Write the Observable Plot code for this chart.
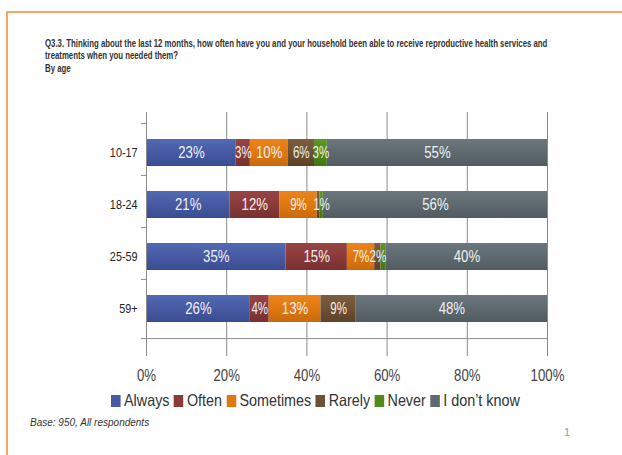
<!DOCTYPE html>
<html>
<head>
<meta charset="utf-8">
<script src="https://cdn.jsdelivr.net/npm/d3@7"></script>
<script src="https://cdn.jsdelivr.net/npm/@observablehq/plot@0.6"></script>
<style>
  html, body { margin: 0; padding: 0; background: #fff; }
  #page { position: relative; width: 622px; height: 455px; overflow: hidden; font-family: "Liberation Sans", Arial, sans-serif; }
  #frame { position: absolute; left: 6px; top: 11px; width: 700px; height: 500px; border-left: 2px solid #F7A666; border-top: 2px solid #F7A666; }
  #title { position: absolute; left: 45px; top: 38px; font-size: 10px; font-weight: bold; line-height: 12.3px; color: #333; white-space: nowrap; transform: scaleX(0.78); transform-origin: 0 0; }
  #chart { position: absolute; left: 0; top: 0; }
  #legend { position: absolute; left: 111px; top: 391px; display: flex; align-items: center; font-size: 16.5px; color: #333; white-space: nowrap; transform: scaleX(0.87); transform-origin: 0 0; }
  #legend .item { display: flex; align-items: center; margin-right: 5px; }
  #legend .sw { width: 11px; height: 12px; margin-right: 4px; }
  #caption { position: absolute; left: 30px; top: 417px; font-style: italic; font-size: 10px; color: #333; }
  #pagenum { position: absolute; left: 564px; top: 426px; font-size: 11px; color: #999; }
</style>
</head>
<body>
<div id="page">
  <div id="frame"></div>
  <div id="chart"></div>
  <div id="title">Q3.3. Thinking about the last 12 months, how often have you and your household been able to receive reproductive health services and<br>treatments when you needed them?<br>By age</div>
  <div id="legend"></div>
  <div id="caption">Base: 950, All respondents</div>
  <div id="pagenum">1</div>
</div>
<script>
// ---- data ----
const ages = ["10-17", "18-24", "25-59", "59+"];
const categories = ["Always", "Often", "Sometimes", "Rarely", "Never", "I don’t know"];

const always    = [22.4, 20.8, 34.8, 25.9];
const often     = [3.5, 12.4, 15.3, 4.7];
const sometimes = [9.4, 9.4, 6.8, 12.9];
const rarely    = [6.6, 0.6, 1.6, 8.8];
const never     = [3.2, 0.9, 1.3, 0];
const dontKnow  = [54.9, 55.9, 40.2, 47.7];

const alwaysLabels    = ["23%", "21%", "35%", "26%"];
const oftenLabels     = ["3%", "12%", "15%", "4%"];
const sometimesLabels = ["10%", "9%", "7%", "13%"];
const rarelyLabels    = ["6%", "", "2%", "9%"];
const neverLabels     = ["3%", "1%", "", ""];
const dontKnowLabels  = ["55%", "56%", "40%", "48%"];

const xTicks = [0, 20, 40, 60, 80, 100];

// colours: [top, bottom, mid]
const palette = [
  ["#526AB3", "#3A4C90", "#4759A3"],
  ["#984444", "#783030", "#8B3A3A"],
  ["#EE8418", "#C86A0C", "#E07810"],
  ["#7E5E3E", "#5C4228", "#6E5034"],
  ["#5E9826", "#427612", "#4F8A1C"],
  ["#6C777D", "#515B60", "#5F6A70"]
];

const series = [always, often, sometimes, rarely, never, dontKnow];
const seriesLabels = [alwaysLabels, oftenLabels, sometimesLabels, rarelyLabels, neverLabels, dontKnowLabels];

const rows = [];
ages.forEach((age, i) => {
  categories.forEach((cat, j) => {
    rows.push({age, cat, value: series[j][i], label: seriesLabels[j][i]});
  });
});

const gradIds = categories.map((c, j) => `grad${j}`);

const chart = Plot.plot({
  width: 622,
  height: 392,
  marginTop: 112,
  marginLeft: 146,
  marginRight: 75,
  marginBottom: 43,
  style: {fontFamily: "'Liberation Sans', Arial, sans-serif", background: "transparent"},
  x: {domain: [0, 100], ticks: xTicks, tickFormat: d => d + "%", label: null},
  y: {domain: ages, label: null, padding: 0.49},
  color: {domain: categories, range: gradIds.map(id => `url(#${id})`)},
  marks: [
    Plot.gridX(xTicks, {stroke: "#8a8a8a", strokeOpacity: 1, strokeWidth: 1}),
    Plot.barX(rows, Plot.stackX({x: "value", y: "age", fill: "cat", order: null})),
    Plot.textX(rows, Plot.stackX({x: "value", y: "age", z: "cat", text: "label", order: null, fill: "#F0F0F0", fontSize: 16.5, className: "barlabel"})),
    Plot.axisX({ticks: xTicks, tickFormat: d => d + "%", tickSize: 7, tickPadding: 13, fontSize: 16.5, stroke: "#8a8a8a", fill: "#444", label: null}),
    Plot.axisY({tickSize: 0, tickPadding: 9, fontSize: 13.5, fill: "#222", label: null}),
    Plot.ruleY([ages[ages.length - 1]], {dy: 29.6, stroke: "#8a8a8a"}),
    Plot.ruleX([0], {stroke: "#8a8a8a"}),
    Plot.ruleY(ages, {x1: -1.25, x2: 0, dy: -29.6, stroke: "#8a8a8a"}),
    Plot.ruleY([ages[ages.length - 1]], {x1: -1.25, x2: 0, dy: 29.6, stroke: "#8a8a8a"})
  ]
});

// gradient definitions
const ns = "http://www.w3.org/2000/svg";
const defs = document.createElementNS(ns, "defs");
palette.forEach((p, j) => {
  const g = document.createElementNS(ns, "linearGradient");
  g.setAttribute("id", gradIds[j]);
  g.setAttribute("x1", "0"); g.setAttribute("y1", "0");
  g.setAttribute("x2", "0"); g.setAttribute("y2", "1");
  [[0, p[0]], [0.5, p[2]], [1, p[1]]].forEach(([o, c]) => {
    const s = document.createElementNS(ns, "stop");
    s.setAttribute("offset", o);
    s.setAttribute("stop-color", c);
    g.appendChild(s);
  });
  defs.appendChild(g);
});
chart.insertBefore(defs, chart.firstChild);
document.getElementById("chart").appendChild(chart);

// condense the SVG text (narrow, Calibri-like look)
chart.querySelectorAll("text").forEach(t => {
  const L = t.getComputedTextLength();
  if (L > 0) {
    const inBar = t.closest(".barlabel") !== null;
    const f = (inBar && t.textContent.length <= 2) ? 0.7 : 0.8;
    t.setAttribute("textLength", (L * f).toFixed(2));
    t.setAttribute("lengthAdjust", "spacingAndGlyphs");
  }
});

// legend
const legend = document.getElementById("legend");
categories.forEach((c, j) => {
  const item = document.createElement("div");
  item.className = "item";
  const sw = document.createElement("div");
  sw.className = "sw";
  sw.style.background = palette[j][2];
  const t = document.createElement("span");
  t.textContent = c;
  item.appendChild(sw);
  item.appendChild(t);
  legend.appendChild(item);
});
</script>
</body>
</html>
